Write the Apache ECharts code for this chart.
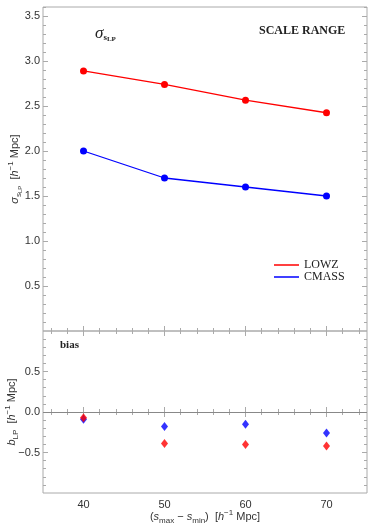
<!DOCTYPE html>
<html>
<head>
<meta charset="utf-8">
<script src="https://cdn.jsdelivr.net/npm/echarts@6/dist/echarts.min.js"></script>
<style>
html,body{margin:0;padding:0;background:#fff}
#chart{width:374px;height:532px}
</style>
</head>
<body>
<div id="chart"></div>
<script>
// scale range values
const xVals = [40, 50, 60, 70];
const sigmaLOWZ = [2.89, 2.74, 2.565, 2.425];
const sigmaCMASS = [2.0, 1.70, 1.60, 1.50];
const biasLOWZ = [-0.07, -0.39, -0.40, -0.42];
const biasCMASS = [-0.09, -0.18, -0.15, -0.26];

// tick labels
const xMajor = [40, 50, 60, 70];
const ySigmaMajor = [0.5, 1.0, 1.5, 2.0, 2.5, 3.0, 3.5];
const yBiasMajor = [-0.5, 0.0, 0.5];

// minor tick positions (every 2 on x, every 0.1 on y)
const xMinor = [];
for (let v = 36; v <= 74; v += 2) if (v % 10 !== 0) xMinor.push(v);
const ySigmaMinor = [];
for (let k = 1; k <= 36; k++) if (k % 5 !== 0) ySigmaMinor.push(k / 10);
const yBiasMinor = [];
for (let k = -9; k <= 9; k++) if (k % 5 !== 0) yBiasMinor.push(k / 10);

const RED = "#ff0000";
const BLUE = "#0000ff";
const FRAME = "#aaaaaa";
const SANS = "Liberation Sans";
const SERIF = "Liberation Serif";

const rich = {
    n: { fontFamily: SANS, fontSize: 11, color: "#333", lineHeight: 16 },
    i: { fontFamily: SANS, fontSize: 11, fontStyle: "italic", color: "#333", lineHeight: 16 },
    sub: { fontFamily: SANS, fontSize: 8, color: "#333", lineHeight: 10, verticalAlign: "bottom" },
    subsub: { fontFamily: SANS, fontSize: 6, color: "#333", lineHeight: 6, verticalAlign: "bottom" },
    sup: { fontFamily: SANS, fontSize: 8, color: "#333", lineHeight: 10, verticalAlign: "top" }
};

function pairs(xs, ys) {
    return xs.map((x, k) => [x, ys[k]]);
}

// one axis = one set of ticks (major with labels, or minor without)
function axis(grid, pos, min, max, ticks, len, labels, fmt) {
    return {
        type: "value", gridIndex: grid, position: pos,
        min: min, max: max,
        axisLine: { show: false },
        axisTick: { show: true, inside: true, length: len, customValues: ticks, lineStyle: { color: FRAME } },
        splitLine: { show: false },
        axisLabel: {
            show: labels, customValues: ticks, color: "#333", fontFamily: SANS, fontSize: 11,
            margin: pos === "bottom" ? 6 : 3, formatter: fmt
        }
    };
}

const fx = v => String(v);
const fy = v => v.toFixed(1).replace("-", "−");

const xAxes = [];
const yAxes = [];
// grid 0 (sigma) and grid 1 (bias)
["bottom", "top"].forEach(p => {
    xAxes.push(axis(0, p, 35, 75, xMajor, 5, false, fx));
    xAxes.push(axis(0, p, 35, 75, xMinor, 3, false, fx));
});
["bottom", "top"].forEach(p => {
    xAxes.push(axis(1, p, 35, 75, xMajor, 5, p === "bottom", fx));
    xAxes.push(axis(1, p, 35, 75, xMinor, 3, false, fx));
});
["left", "right"].forEach(p => {
    yAxes.push(axis(0, p, 0, 3.6, ySigmaMajor, 5, p === "left", fy));
    yAxes.push(axis(0, p, 0, 3.6, ySigmaMinor, 3, false, fy));
});
["left", "right"].forEach(p => {
    yAxes.push(axis(1, p, -1, 1, yBiasMajor, 5, p === "left", fy));
    yAxes.push(axis(1, p, -1, 1, yBiasMinor, 3, false, fy));
});

// axis titles
Object.assign(xAxes[4], {
    name: "{n|(}{i|s}{sub|max}{n| − }{i|s}{sub|min}{n|)  [}{i|h}{sup|−1}{n| Mpc]}",
    nameLocation: "middle", nameGap: 16, nameMoveOverlap: false, nameTextStyle: { rich: rich }
});
Object.assign(yAxes[0], {
    name: "{i|σ}{sub|s}{subsub|LP}{n|  [}{i|h}{sup|−1}{n| Mpc]}",
    nameLocation: "middle", nameGap: 20, nameMoveOverlap: false, nameTextStyle: { rich: rich }
});
Object.assign(yAxes[4], {
    name: "{i|b}{sub|LP}{n|  [}{i|h}{sup|−1}{n| Mpc]}",
    nameLocation: "middle", nameGap: 23, nameMoveOverlap: false, nameTextStyle: { rich: rich }
});

let myChart = echarts.init(document.getElementById("chart"));
myChart.setOption({
    animation: false,
    backgroundColor: "#fff",
    grid: [
        { left: 43, right: 7, top: 7, height: 324, show: true, borderColor: FRAME, borderWidth: 1, outerBoundsMode: "none", containLabel: false },
        { left: 43, right: 7, top: 331, height: 162, show: true, borderColor: FRAME, borderWidth: 1, outerBoundsMode: "none", containLabel: false }
    ],
    xAxis: xAxes,
    yAxis: yAxes,
    legend: {
        data: ["LOWZ", "CMASS"],
        orient: "vertical",
        left: 269, top: 254,
        icon: "rect",
        itemWidth: 25, itemHeight: 1.5, itemGap: 0,
        textStyle: { fontFamily: SERIF, fontSize: 12, color: "#222" }
    },
    graphic: [
        {
            type: "text", left: 259, top: 25,
            style: { text: "SCALE RANGE", font: "bold 12px 'Liberation Serif'", fill: "#222" }
        },
        {
            type: "text", left: 60, top: 340,
            style: { text: "bias", font: "bold 11px 'Liberation Serif'", fill: "#222" }
        },
        {
            type: "text", left: 95, top: 25,
            style: {
                text: "{sig|σ}{s|s}{lp|LP}",
                rich: {
                    sig: { font: "italic 17px 'Liberation Serif'", fill: "#222", lineHeight: 18 },
                    s: { font: "bold 9px 'Liberation Serif'", fill: "#222", lineHeight: 10, verticalAlign: "bottom" },
                    lp: { font: "bold 7px 'Liberation Serif'", fill: "#222", lineHeight: 8, verticalAlign: "bottom" }
                }
            }
        }
    ],
    series: [
        {
            name: "LOWZ", type: "line", xAxisIndex: 0, yAxisIndex: 0,
            data: pairs(xVals, sigmaLOWZ),
            color: RED, symbol: "circle", symbolSize: 7,
            lineStyle: { width: 1.3 }
        },
        {
            name: "CMASS", type: "line", xAxisIndex: 0, yAxisIndex: 0,
            data: pairs(xVals, sigmaCMASS),
            color: BLUE, symbol: "circle", symbolSize: 7,
            lineStyle: { width: 1.3 }
        },
        {
            name: "CMASS bias", type: "scatter", xAxisIndex: 4, yAxisIndex: 4,
            data: pairs(xVals, biasCMASS),
            color: BLUE, symbol: "diamond", symbolSize: [7, 9],
            markLine: {
                silent: true, symbol: "none", label: { show: false },
                lineStyle: { color: "#888", type: "solid", width: 1 },
                data: [{ yAxis: 0 }]
            }
        },
        {
            name: "LOWZ bias", type: "scatter", xAxisIndex: 4, yAxisIndex: 4,
            data: pairs(xVals, biasLOWZ),
            color: RED, symbol: "diamond", symbolSize: [7, 9]
        }
    ]
});
</script>
</body>
</html>
